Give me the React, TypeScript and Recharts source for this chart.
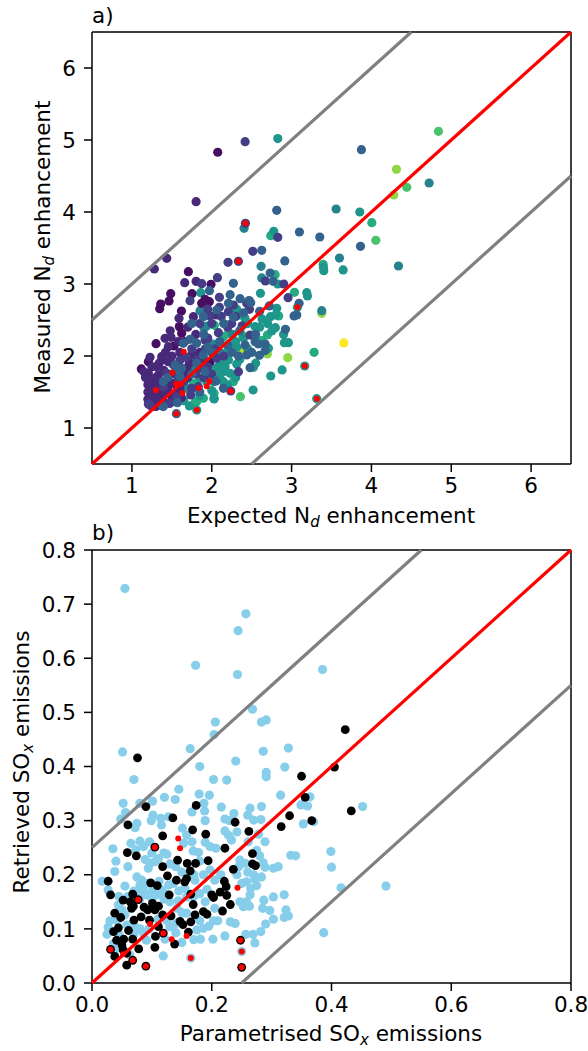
import React from 'react';
import { ScatterChart, Scatter, XAxis, YAxis } from 'recharts';

type Pair = number[];

// panel a: points grouped by viridis shade
const deepPurple: Pair[] = [[2.075,4.83],[1.707,3.171],[1.991,2.996],[1.753,2.866],[1.916,2.787],[1.486,2.866],[1.361,2.722],[1.465,2.764],[1.348,2.657],[1.874,2.731],[1.97,2.755],[1.62,2.625],[1.594,2.408],[1.623,2.315],[1.302,2.171],[1.527,2.139],[1.118,1.82],[1.206,1.921],[1.978,1.921],[1.227,1.412],[1.268,1.343]];
const violet: Pair[] = [[1.804,4.144],[1.436,3.357],[1.281,3.208],[1.661,3.019],[1.804,3.037],[1.59,2.523],[1.77,2.546],[2.054,2.57],[1.415,2.246],[1.49,2.26],[1.456,2.13],[1.227,1.982],[1.31,1.852],[1.373,1.991],[1.456,1.921],[1.686,1.829],[1.289,1.459],[1.331,1.389],[1.456,1.482],[1.268,1.644],[1.227,1.667],[1.331,1.736],[1.206,1.759],[1.498,1.62],[1.7,2.4],[1.25,1.85],[1.3,1.7],[1.35,1.6],[1.4,1.8],[1.5,1.75],[1.55,1.6],[1.3,1.5],[1.25,1.55],[1.2,1.5],[1.2,1.4],[1.25,1.3],[1.3,1.3],[1.38,1.42],[1.45,1.55],[1.5,1.45],[1.6,1.55],[1.65,1.75],[1.72,1.9],[1.6,2.05],[1.5,2.0],[1.42,2.05],[1.75,2.02],[1.9,1.95],[1.85,2.05],[1.8,2.3],[1.2,1.6],[1.17,1.7],[1.15,1.78],[1.28,1.42],[1.33,1.48],[1.4,1.36],[1.42,1.48],[1.5,1.38],[1.57,1.5],[1.62,1.42],[1.34,1.9],[1.4,1.95],[1.58,1.8],[1.7,1.7],[1.52,1.88],[1.66,2.2],[1.58,2.2],[1.48,2.35]];
const indigo: Pair[] = [[2.418,4.977],[2.827,3.648],[2.514,3.454],[2.204,3.301],[2.071,3.088],[1.875,3.005],[2.672,3.042],[2.902,3.0],[2.096,2.815],[2.956,2.81],[1.728,2.769],[2.096,2.676],[2.271,2.708],[2.438,2.731],[1.979,2.556],[2.209,2.616],[2.472,2.648],[2.083,2.324],[2.48,2.29],[1.916,2.222],[2.062,1.968],[1.603,1.944],[1.853,1.829],[1.736,1.459],[1.832,1.574],[1.206,1.334],[1.227,1.32],[1.477,1.343],[1.56,1.435],[1.394,1.574],[1.435,1.759],[1.582,1.69],[2.334,1.782],[1.469,1.343],[2.422,3.843],[2.334,3.315],[2.238,1.514],[1.92,2.1],[1.75,2.1],[1.95,2.25],[1.8,1.75],[1.9,1.7],[1.75,1.55],[1.65,1.65],[1.55,1.85],[1.68,1.98],[1.82,1.95],[1.95,1.85],[2.0,1.75],[2.05,2.1],[2.15,2.0],[2.2,2.4],[2.12,2.55],[2.0,2.45],[1.85,2.45],[1.95,2.65],[2.3,2.55],[2.38,2.42],[2.25,2.45]];
const steel: Pair[] = [[2.814,4.023],[3.098,3.722],[3.863,3.523],[2.626,3.468],[2.915,3.32],[2.731,3.153],[2.768,3.037],[1.971,2.907],[2.23,2.852],[2.271,3.009],[2.355,2.796],[2.468,2.77],[3.353,3.653],[3.875,4.866],[2.209,2.731],[2.488,2.74],[1.895,2.546],[2.062,2.639],[2.72,2.695],[3.031,2.556],[3.065,2.57],[3.094,2.731],[2.923,2.37],[2.271,2.537],[2.417,2.153],[2.543,2.199],[2.668,2.167],[2.584,2.167],[2.668,2.074],[2.597,2.009],[2.438,2.014],[2.334,2.0],[2.48,1.838],[2.146,1.551],[1.569,1.352],[1.381,1.306],[1.644,2.176],[1.728,2.232],[1.811,2.176],[1.54,1.875],[1.569,1.815],[1.811,1.898],[1.895,2.014],[1.916,1.782],[1.623,1.829],[1.394,1.297],[1.394,1.644],[1.557,1.199],[2.15,2.45],[2.2,2.15],[2.0,2.05],[1.9,2.3],[1.75,2.45],[1.45,1.7],[1.6,1.72],[1.75,1.75],[1.95,2.12],[2.1,2.2],[2.25,2.05],[2.05,1.65],[1.85,1.5],[2.35,2.35],[2.55,2.3],[2.4,2.6],[2.6,2.62],[2.5,2.05]];
const slate: Pair[] = [[4.723,4.403],[3.558,4.042],[2.405,3.773],[3.6,3.36],[4.339,3.25],[2.618,3.246],[2.626,3.084],[1.853,2.63],[3.378,2.63],[1.904,2.384],[2.0,2.153],[1.665,1.667],[1.686,1.551],[1.77,1.806],[2.26,2.3],[2.1,2.05]];
const teal: Pair[] = [[2.827,5.02],[3.854,4.0],[2.777,3.732],[3.399,3.232],[3.403,3.185],[3.646,3.195],[2.827,3.0],[1.862,2.88],[2.61,2.87],[3.19,2.88],[3.199,2.834],[2.313,2.648],[2.417,2.523],[2.63,2.514],[2.814,2.662],[2.735,2.546],[2.8,2.57],[2.797,2.394],[2.752,2.347],[2.543,2.407],[1.937,2.417],[2.02,2.167],[2.313,2.12],[2.71,2.107],[2.91,2.185],[2.96,2.185],[2.179,2.046],[2.209,1.944],[2.313,1.889],[2.083,1.852],[2.167,1.852],[2.229,1.76],[2.522,1.843],[2.881,1.806],[2.739,1.722],[2.518,1.528],[2.029,1.412],[1.72,1.306],[1.77,1.968],[2.145,1.782],[1.853,1.69],[1.937,1.644],[2.02,1.644],[2.145,1.644],[2.104,1.736],[2.029,1.403],[3.165,1.861],[3.315,1.407],[1.812,1.25],[3.073,2.676],[2.3,2.2],[2.35,1.95],[2.45,2.1],[2.25,2.15],[2.15,1.9],[1.95,1.75],[2.4,2.25],[2.55,1.9],[2.0,1.52],[1.85,1.45],[1.65,1.38],[2.3,1.7],[2.2,1.6],[2.6,2.4],[2.45,2.45],[2.9,2.3],[2.7,2.45]];
const seaGreen: Pair[] = [[4.005,3.852],[2.739,3.671],[2.794,3.13],[3.036,2.884],[3.395,3.273],[2.355,2.57],[2.839,2.556],[2.697,2.292],[2.209,2.315],[2.033,2.426],[2.146,2.269],[2.626,2.213],[3.282,2.051],[2.271,1.644],[2.029,1.481],[1.895,1.412],[1.795,1.366],[1.77,1.62],[2.041,1.829],[1.811,1.366]];
const green: Pair[] = [[4.84,5.12],[4.443,4.343],[4.055,3.607],[2.384,2.287],[2.359,1.435]];
const lime: Pair[] = [[4.314,4.593],[4.28,4.236],[3.378,2.593],[2.697,2.028],[2.952,1.977]];
const citron: Pair[] = [[2.384,2.074]];
const yellow: Pair[] = [[3.654,2.181]];
const redA: Pair[] = [[2.422,3.843],[2.334,3.315],[3.073,2.676],[3.165,1.861],[3.315,1.407],[2.238,1.514],[1.812,1.25],[1.557,1.199],[1.97,1.648],[1.937,1.579],[1.837,1.556],[1.632,1.486],[1.611,1.611],[1.557,1.611],[1.507,1.769],[1.649,2.06],[1.302,1.523]];

// panel b
const skyB: Pair[] = [[0.055,0.729],[0.257,0.682],[0.244,0.651],[0.173,0.587],[0.243,0.57],[0.385,0.579],[0.268,0.506],[0.206,0.482],[0.204,0.459],[0.291,0.486],[0.283,0.482],[0.051,0.427],[0.164,0.433],[0.286,0.428],[0.328,0.434],[0.18,0.4],[0.24,0.41],[0.322,0.399],[0.291,0.389],[0.291,0.381],[0.07,0.376],[0.203,0.376],[0.225,0.375],[0.145,0.358],[0.452,0.326],[0.399,0.243],[0.4,0.214],[0.416,0.176],[0.491,0.179],
[0.052,0.332],[0.056,0.315],[0.08,0.332],[0.101,0.336],[0.121,0.343],[0.139,0.339],[0.179,0.349],[0.196,0.347],[0.187,0.332],[0.188,0.318],[0.167,0.316],[0.216,0.325],[0.264,0.323],[0.283,0.326],[0.26,0.31],[0.237,0.313],[0.315,0.347],[0.364,0.344],[0.349,0.329],[0.36,0.327],[0.353,0.294],[0.37,0.298],[0.048,0.303],[0.075,0.295],[0.072,0.287],[0.102,0.31],[0.099,0.3],[0.115,0.304],[0.116,0.292],[0.128,0.307],[0.189,0.3],[0.222,0.303],[0.23,0.3],[0.27,0.301],[0.282,0.302],
[0.151,0.286],[0.158,0.273],[0.153,0.258],[0.167,0.261],[0.189,0.26],[0.197,0.252],[0.207,0.249],[0.222,0.281],[0.242,0.279],[0.228,0.273],[0.233,0.264],[0.261,0.261],[0.278,0.275],[0.289,0.261],[0.065,0.258],[0.08,0.262],[0.096,0.261],[0.086,0.252],[0.073,0.246],[0.035,0.248],[0.125,0.238],[0.169,0.244],[0.178,0.241],[0.089,0.228],[0.111,0.23],[0.097,0.221],[0.105,0.224],[0.094,0.212],[0.247,0.227],[0.256,0.221],[0.286,0.222],[0.289,0.214],[0.332,0.236],[0.34,0.235],[0.311,0.215],[0.303,0.212],
[0.038,0.206],[0.017,0.188],[0.075,0.196],[0.083,0.19],[0.08,0.181],[0.055,0.179],[0.027,0.172],[0.091,0.184],[0.116,0.172],[0.128,0.181],[0.136,0.184],[0.108,0.163],[0.091,0.163],[0.08,0.166],[0.172,0.19],[0.186,0.2],[0.197,0.209],[0.192,0.173],[0.242,0.2],[0.258,0.187],[0.272,0.191],[0.283,0.196],[0.25,0.184],[0.264,0.163],[0.258,0.15],[0.247,0.15],[0.253,0.141],[0.263,0.142],[0.287,0.153],[0.303,0.159],[0.321,0.163],[0.285,0.138],[0.297,0.134],[0.324,0.135],[0.328,0.124],[0.321,0.121],[0.303,0.118],[0.29,0.109],[0.282,0.095],[0.269,0.09],[0.257,0.09],[0.272,0.074],[0.387,0.093],
[0.231,0.113],[0.239,0.11],[0.203,0.115],[0.21,0.115],[0.205,0.138],[0.222,0.087],[0.202,0.081],[0.181,0.081],[0.186,0.101],[0.175,0.098],[0.14,0.093],[0.142,0.138],[0.158,0.129],[0.144,0.152],[0.158,0.159],[0.189,0.15],[0.13,0.104],[0.122,0.081],[0.119,0.05],[0.091,0.079],[0.086,0.092],[0.058,0.107],[0.027,0.103],[0.044,0.144],[0.05,0.135],[0.055,0.126],[0.072,0.104],[0.036,0.073],[0.063,0.052],[0.038,0.061],[0.165,0.046],[0.25,0.058],
[0.085,0.175],[0.1,0.17],[0.112,0.188],[0.122,0.165],[0.1,0.156],[0.13,0.15],[0.12,0.155],[0.08,0.155],[0.07,0.17],[0.06,0.16],[0.045,0.16],[0.042,0.115],[0.03,0.115],[0.025,0.09],[0.045,0.09],[0.07,0.09],[0.08,0.1],[0.095,0.1],[0.11,0.118],[0.125,0.115],[0.14,0.11],[0.15,0.13],[0.17,0.16],[0.18,0.165],[0.18,0.115],[0.195,0.105],[0.17,0.08],[0.15,0.075],[0.205,0.19],[0.215,0.2],[0.26,0.205],[0.27,0.2],[0.275,0.18],[0.265,0.175],[0.245,0.215],[0.28,0.235],[0.275,0.245],[0.15,0.205],[0.14,0.215],[0.13,0.22],[0.12,0.24],[0.1,0.24],[0.06,0.215],[0.04,0.225],[0.18,0.225],[0.17,0.2],[0.145,0.17],[0.155,0.175]];
const blackB: Pair[] = [[0.076,0.416],[0.423,0.468],[0.35,0.382],[0.405,0.399],[0.433,0.318],[0.356,0.343],[0.33,0.309],[0.367,0.3],[0.316,0.289],[0.09,0.326],[0.174,0.328],[0.06,0.292],[0.135,0.305],[0.239,0.297],[0.118,0.272],[0.168,0.283],[0.19,0.275],[0.262,0.28],[0.222,0.249],[0.059,0.241],[0.074,0.235],[0.268,0.239],[0.143,0.227],[0.159,0.221],[0.173,0.221],[0.194,0.226],[0.268,0.22],[0.273,0.217],[0.118,0.215],[0.164,0.207],[0.236,0.21],[0.126,0.198],[0.141,0.19],[0.155,0.187],[0.158,0.193],[0.027,0.188],[0.098,0.185],[0.109,0.18],[0.221,0.188],[0.224,0.178],[0.031,0.163],[0.068,0.164],[0.129,0.163],[0.165,0.164],[0.2,0.163],[0.203,0.158],[0.214,0.168],[0.225,0.162],[0.052,0.153],[0.064,0.15],[0.069,0.142],[0.066,0.138],[0.087,0.14],[0.093,0.135],[0.101,0.147],[0.111,0.142],[0.105,0.135],[0.169,0.145],[0.231,0.145],[0.218,0.133],[0.186,0.132],[0.192,0.127],[0.172,0.126],[0.038,0.129],[0.048,0.121],[0.082,0.122],[0.07,0.116],[0.096,0.116],[0.118,0.126],[0.132,0.124],[0.147,0.114],[0.152,0.108],[0.165,0.113],[0.111,0.104],[0.044,0.102],[0.036,0.095],[0.061,0.097],[0.161,0.094],[0.106,0.086],[0.053,0.081],[0.041,0.079],[0.068,0.081],[0.05,0.07],[0.138,0.072],[0.105,0.066],[0.078,0.063],[0.058,0.055],[0.038,0.049],[0.052,0.061],[0.058,0.033],[0.248,0.079],[0.25,0.029],[0.105,0.251],[0.09,0.031],[0.031,0.062],[0.068,0.042],[0.077,0.154],[0.119,0.092]];
const redB: Pair[] = [[0.248,0.079],[0.25,0.029],[0.105,0.251],[0.09,0.031],[0.031,0.062],[0.068,0.042],[0.077,0.154],[0.119,0.092],[0.144,0.267],[0.147,0.249],[0.243,0.176],[0.165,0.046],[0.25,0.058],[0.158,0.087],[0.133,0.081],[0.097,0.109],[0.052,0.053]];

// guide lines, as [x, y] end points
const oneToOneA: Pair[] = [[0.5,0.5],[6.5,6.5]];
const upperA: Pair[] = [[0.5,2.5],[4.5,6.5]];
const lowerA: Pair[] = [[2.5,0.5],[6.5,4.5]];
const oneToOneB: Pair[] = [[0,0],[0.8,0.8]];
const upperB: Pair[] = [[0,0.25],[0.55,0.8]];
const lowerB: Pair[] = [[0.25,0],[0.8,0.55]];

const ticksA = [1, 2, 3, 4, 5, 6];
const xTicksB = [0, 0.2, 0.4, 0.6, 0.8];
const yTicksB = [0, 0.1, 0.2, 0.3, 0.4, 0.5, 0.6, 0.7, 0.8];

const FONT = '"DejaVu Sans"';
const FONT_SIZE = 21.5;
const TICK = { fill: '#000', fontSize: FONT_SIZE, fontFamily: FONT };
const AXIS = { stroke: '#000', strokeWidth: 1.5 };

const toPoints = (pairs: Pair[]) => pairs.map(([x, y]) => ({ x, y }));
const dot = (r: number, fill: string) => (p: any) => <circle cx={p.cx} cy={p.cy} r={r} fill={fill} />;

const points = (pairs: Pair[], r: number, fill: string) => (
  <Scatter data={toPoints(pairs)} shape={dot(r, fill)} isAnimationActive={false} />
);

const guide = (pairs: Pair[], stroke: string) => (
  <Scatter
    data={toPoints(pairs)}
    line={{ stroke, strokeWidth: 3.2 }}
    shape={() => <g />}
    isAnimationActive={false}
  />
);

const sub = (main: string, s: string, tail: string) => (
  <>
    {main}
    <tspan dy={4} fontSize={15} fontStyle="italic">{s}</tspan>
    <tspan dy={-4}>{tail}</tspan>
  </>
);

const title = (x: number, y: number, body: React.ReactNode, rotate = false, anchor = 'middle') => () => (
  <text
    x={x}
    y={y}
    textAnchor={anchor}
    fontFamily={FONT}
    fontSize={FONT_SIZE}
    fill="#000"
    transform={rotate ? `rotate(-90 ${x} ${y})` : undefined}
  >
    {body}
  </text>
);

const frame = (h: number, tag: string, tagY: number) => [
  <XAxis key="t" xAxisId="top" orientation="top" type="number" domain={[0, 1]} height={h} tick={false} tickLine={false} axisLine={AXIS} label={{ content: title(92, tagY, tag, false, 'start') }} />,
  <YAxis key="r" yAxisId="right" orientation="right" type="number" domain={[0, 1]} width={17} tick={false} tickLine={false} axisLine={AXIS} />,
];

export default function App() {
  return (
    <div style={{ position: 'absolute', left: 0, top: 0, width: 588, height: 1051 }}>
      <div style={{ position: 'absolute', left: 0, top: 0 }}>
        <ScatterChart width={588} height={535} margin={{ top: 0, right: 0, bottom: 0, left: 0 }}>
          {frame(32, 'a)', 23)}
          <XAxis
            dataKey="x"
            type="number"
            domain={[0.5, 6.5]}
            ticks={ticksA}
            height={71}
            tickSize={8}
            tickMargin={6}
            tick={TICK}
            tickLine={AXIS}
            axisLine={AXIS}
            label={{ content: title(331, 523, sub('Expected N', 'd', ' enhancement')) }}
          />
          <YAxis
            dataKey="y"
            type="number"
            domain={[0.5, 6.5]}
            ticks={ticksA}
            width={92}
            tickSize={8}
            tickMargin={8}
            tick={TICK}
            tickLine={AXIS}
            axisLine={AXIS}
            label={{ content: title(50, 247, sub('Measured N', 'd', ' enhancement'), true) }}
          />
          {points(yellow, 4.6, '#fde725')}
          {points(citron, 4.6, '#bddf26')}
          {points(lime, 4.6, '#8fd744')}
          {points(green, 4.6, '#4ac16d')}
          {points(seaGreen, 4.6, '#25ab82')}
          {points(teal, 4.6, '#1f968b')}
          {points(slate, 4.6, '#26828e')}
          {points(deepPurple, 4.6, '#470e61')}
          {points(violet, 4.6, '#482878')}
          {points(indigo, 4.6, '#433e85')}
          {points(steel, 4.6, '#33638d')}
          {guide(upperA, '#808080')}
          {guide(lowerA, '#808080')}
          {guide(oneToOneA, '#ff0000')}
          {points(redA, 3, '#ff0000')}
        </ScatterChart>
      </div>
      <div style={{ position: 'absolute', left: 0, top: 515 }}>
        <ScatterChart width={588} height={536} margin={{ top: 0, right: 0, bottom: 0, left: 0 }}>
          {frame(35, 'b)', 25)}
          <XAxis
            dataKey="x"
            type="number"
            domain={[0, 0.8]}
            ticks={xTicksB}
            tickFormatter={(v: number) => v.toFixed(1)}
            height={68}
            tickSize={8}
            tickMargin={6}
            tick={TICK}
            tickLine={AXIS}
            axisLine={AXIS}
            label={{ content: title(331, 526, sub('Parametrised SO', 'x', ' emissions')) }}
          />
          <YAxis
            dataKey="y"
            type="number"
            domain={[0, 0.8]}
            ticks={yTicksB}
            tickFormatter={(v: number) => v.toFixed(1)}
            width={92}
            tickSize={8}
            tickMargin={8}
            tick={TICK}
            tickLine={AXIS}
            axisLine={AXIS}
            label={{ content: title(29, 247, sub('Retrieved SO', 'x', ' emissions'), true) }}
          />
          {points(skyB, 4.6, '#87ceeb')}
          {points(blackB, 4.4, '#000000')}
          {guide(upperB, '#808080')}
          {guide(lowerB, '#808080')}
          {guide(oneToOneB, '#ff0000')}
          {points(redB, 3, '#ff0000')}
        </ScatterChart>
      </div>
    </div>
  );
}
